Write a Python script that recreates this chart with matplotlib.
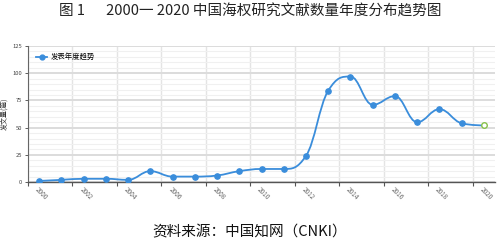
import numpy as np
import matplotlib.pyplot as plt
from matplotlib.path import Path
from matplotlib.patches import PathPatch

plt.rcParams['font.family'] = ['Noto Sans CJK SC', 'DejaVu Sans']

years = list(range(2000, 2021))
counts = [1, 2, 3, 3, 2, 10, 5, 5, 6, 10, 12, 12, 24, 84, 97, 71, 79, 55, 67, 54, 52]
tick_years = [str(y) for y in range(2000, 2021, 2)]

title = '图 1　  2000一 2020 中国海权研究文献数量年度分布趋势图'
source = '资料来源：中国知网（CNKI）'
series_name = '发表年度趋势'
ylabel = '发文量(篇)'

line_color = '#3a8ddb'
last_color = '#86c04a'


def spline_path(xs, ys, smoothing=1.5):
    # bezier control points in the style of a highcharts spline
    n = len(xs)
    denom = smoothing + 1
    left = [(xs[i], ys[i]) for i in range(n)]
    right = [(xs[i], ys[i]) for i in range(n)]
    for i in range(1, n - 1):
        x, y = xs[i], ys[i]
        lx, ly = xs[i - 1], ys[i - 1]
        nx, ny = xs[i + 1], ys[i + 1]
        lcx = (smoothing * x + lx) / denom
        lcy = (smoothing * y + ly) / denom
        rcx = (smoothing * x + nx) / denom
        rcy = (smoothing * y + ny) / denom
        corr = (rcy - lcy) * (rcx - x) / (rcx - lcx) + y - rcy
        lcy += corr
        rcy += corr
        if lcy > ly and lcy > y:
            lcy = max(ly, y)
            rcy = 2 * y - lcy
        elif lcy < ly and lcy < y:
            lcy = min(ly, y)
            rcy = 2 * y - lcy
        if rcy > ny and rcy > y:
            rcy = max(ny, y)
            lcy = 2 * y - rcy
        elif rcy < ny and rcy < y:
            rcy = min(ny, y)
            lcy = 2 * y - rcy
        left[i] = (lcx, lcy)
        right[i] = (rcx, rcy)
    verts = [(xs[0], ys[0])]
    codes = [Path.MOVETO]
    for i in range(1, n):
        verts += [right[i - 1], left[i], (xs[i], ys[i])]
        codes += [Path.CURVE4] * 3
    return Path(verts, codes)


fig = plt.figure(figsize=(5, 2.45), dpi=100)
ax = fig.add_axes([0.056, 0.257, 0.934, 0.555])

x = np.arange(len(years))
ax.set_xlim(-0.5, len(years) - 0.5)
ax.set_ylim(0, 125)

# grid
ax.set_yticks(range(0, 126, 25))
ax.set_yticks(range(0, 126, 5), minor=True)
ax.set_xticks(x[::2])
ax.set_xticklabels(tick_years)
ax.set_xticks(np.arange(-0.5, len(years), 2), minor=True)
ax.grid(axis='y', which='minor', color='#f0f0f0', lw=0.8)
ax.grid(axis='y', which='major', color='#dcdcdc', lw=1.4)
ax.grid(axis='x', which='minor', color='#e4e4e4', lw=1.0)
ax.set_axisbelow(True)

for s in ['top', 'right']:
    ax.spines[s].set_visible(False)
ax.spines['left'].set_color('#666666')
ax.spines['bottom'].set_color('#555555')
ax.spines['left'].set_linewidth(0.8)
ax.spines['bottom'].set_linewidth(1.0)

ax.tick_params(axis='y', which='major', labelsize=4.2, length=2.5, width=0.6,
               colors='#444444', pad=1.5)
ax.tick_params(axis='y', which='minor', length=0)
ax.tick_params(axis='x', which='major', labelsize=4.6, length=0, pad=3,
               colors='#666666', labelrotation=-45)
ax.tick_params(axis='x', which='minor', length=3, width=0.8, color='#555555')
for lbl in ax.get_xticklabels():
    lbl.set_ha('left')
    lbl.set_va('top')
    lbl.set_rotation_mode('anchor')

ax.add_patch(PathPatch(spline_path(list(x), counts), fc='none',
                       ec=line_color, lw=1.3, zorder=3))
ax.plot(x[:-1], counts[:-1], 'o', color=line_color, ms=3.8, zorder=4)
ax.plot(x[-1:], counts[-1:], 'o', mfc='white', mec=last_color, mew=1.0,
        ms=4, zorder=4)

# legend
ax.plot([], [], '-o', color=line_color, lw=1.3, ms=3.5, label=series_name)
leg = ax.legend(loc='upper left', bbox_to_anchor=(0.01, 0.97), frameon=False,
                fontsize=5.3, handlelength=1.6, borderaxespad=0, handletextpad=0.4)

ax.set_ylabel(ylabel, fontsize=5, color='#333333', labelpad=3)

fig.text(0.5, 0.952, title, ha='center', va='center', fontsize=10.5, color='#222222')
fig.text(0.5, 0.053, source, ha='center', va='center', fontsize=10.5, color='#111111')

fig.savefig('out.png', dpi=100)
